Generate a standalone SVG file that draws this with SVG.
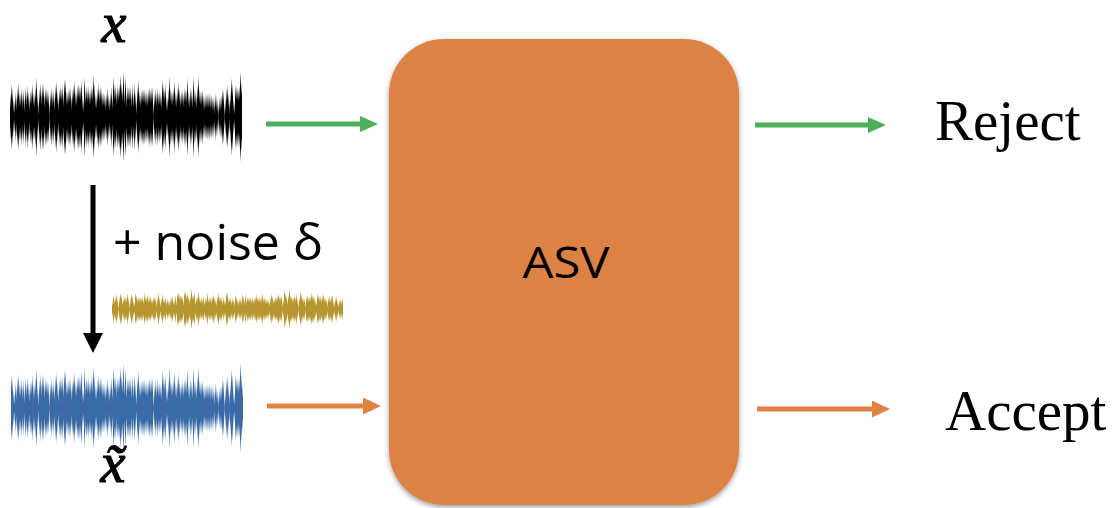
<svg xmlns="http://www.w3.org/2000/svg" width="1116" height="508" viewBox="0 0 1116 508">
  <style>
    .serif { font-family: "Liberation Serif", "Times New Roman", serif; fill: #000; }
    .sans { font-family: "Open Sans", "Noto Sans", sans-serif; fill: #000; }
    .math { font-family: "Liberation Serif", "DejaVu Serif", serif; font-style: italic; fill: #000; stroke: #000; stroke-width: 1.2; }
    .link { fill: none; stroke-width: 5; }
    .green { stroke: #4caf5a; }
    .orange { stroke: #df8243; }
    .black { stroke: #000; }
  </style>
  <defs>
    <!-- vertical envelope: 0 at centre line, 1 at top and bottom edge -->
    <linearGradient id="env" x1="0" y1="0" x2="0" y2="1">
      <stop offset="0" stop-color="#000" stop-opacity="1"/>
      <stop offset="0.5" stop-color="#000" stop-opacity="0"/>
      <stop offset="1" stop-color="#000" stop-opacity="1"/>
    </linearGradient>

    <!-- waveform: slow loudness envelope x fast sample noise, thresholded against |y| -->
    <filter id="waveClean" x="0" y="0" width="1" height="1" color-interpolation-filters="sRGB">
      <feTurbulence type="fractalNoise" baseFrequency="0.03 0" numOctaves="2" seed="4" result="lo"/>
      <feComponentTransfer in="lo" result="loA">
        <feFuncR type="linear" slope="0" intercept="0"/>
        <feFuncG type="linear" slope="0" intercept="0"/>
        <feFuncB type="linear" slope="0" intercept="0"/>
        <feFuncA type="linear" slope="1.2" intercept="0.15"/>
      </feComponentTransfer>
      <feTurbulence type="fractalNoise" baseFrequency="0.45 0" numOctaves="2" seed="9" result="hi"/>
      <feComponentTransfer in="hi" result="hiA">
        <feFuncR type="linear" slope="0" intercept="0"/>
        <feFuncG type="linear" slope="0" intercept="0"/>
        <feFuncB type="linear" slope="0" intercept="0"/>
        <feFuncA type="linear" slope="1.5" intercept="-0.05"/>
      </feComponentTransfer>
      <feComposite in="loA" in2="hiA" operator="arithmetic" k1="1" result="amp"/>
      <feComposite in="amp" in2="SourceAlpha" operator="arithmetic" k2="3.5" k3="-3.5" k4="0.1" result="shape"/>
      <feFlood flood-color="#000"/>
      <feComposite in2="shape" operator="in"/>
    </filter>

    <filter id="waveNoisy" x="0" y="0" width="1" height="1" color-interpolation-filters="sRGB">
      <feTurbulence type="fractalNoise" baseFrequency="0.03 0" numOctaves="2" seed="4" result="lo"/>
      <feComponentTransfer in="lo" result="loA">
        <feFuncR type="linear" slope="0" intercept="0"/>
        <feFuncG type="linear" slope="0" intercept="0"/>
        <feFuncB type="linear" slope="0" intercept="0"/>
        <feFuncA type="linear" slope="1.1" intercept="0.22"/>
      </feComponentTransfer>
      <feTurbulence type="fractalNoise" baseFrequency="0.45 0" numOctaves="2" seed="9" result="hi"/>
      <feComponentTransfer in="hi" result="hiA">
        <feFuncR type="linear" slope="0" intercept="0"/>
        <feFuncG type="linear" slope="0" intercept="0"/>
        <feFuncB type="linear" slope="0" intercept="0"/>
        <feFuncA type="linear" slope="1.5" intercept="-0.05"/>
      </feComponentTransfer>
      <feComposite in="loA" in2="hiA" operator="arithmetic" k1="1" result="amp"/>
      <feComposite in="amp" in2="SourceAlpha" operator="arithmetic" k2="3.5" k3="-3.5" k4="0.1" result="shape"/>
      <feFlood flood-color="#3a6ba6"/>
      <feComposite in2="shape" operator="in"/>
    </filter>

    <filter id="waveDelta" x="0" y="0" width="1" height="1" color-interpolation-filters="sRGB">
      <feTurbulence type="fractalNoise" baseFrequency="0.04 0" numOctaves="2" seed="17" result="lo"/>
      <feComponentTransfer in="lo" result="loA">
        <feFuncR type="linear" slope="0" intercept="0"/>
        <feFuncG type="linear" slope="0" intercept="0"/>
        <feFuncB type="linear" slope="0" intercept="0"/>
        <feFuncA type="linear" slope="0.8" intercept="0.45"/>
      </feComponentTransfer>
      <feTurbulence type="fractalNoise" baseFrequency="0.45 0" numOctaves="2" seed="23" result="hi"/>
      <feComponentTransfer in="hi" result="hiA">
        <feFuncR type="linear" slope="0" intercept="0"/>
        <feFuncG type="linear" slope="0" intercept="0"/>
        <feFuncB type="linear" slope="0" intercept="0"/>
        <feFuncA type="linear" slope="1.5" intercept="-0.05"/>
      </feComponentTransfer>
      <feComposite in="loA" in2="hiA" operator="arithmetic" k1="1" result="amp"/>
      <feComposite in="amp" in2="SourceAlpha" operator="arithmetic" k2="3.5" k3="-3.5" k4="0.1" result="shape"/>
      <feFlood flood-color="#b8962f"/>
      <feComposite in2="shape" operator="in"/>
    </filter>

    <filter id="boxShadow" x="-5%" y="-5%" width="110%" height="110%">
      <feDropShadow dx="0" dy="2" stdDeviation="2.5" flood-color="#000" flood-opacity="0.4"/>
    </filter>

    <marker id="headGreen" markerUnits="userSpaceOnUse" markerWidth="18" markerHeight="16" refX="0" refY="8" orient="auto">
      <path d="M0,0 L18,8 L0,16 Z" fill="#4caf5a"/>
    </marker>
    <marker id="headOrange" markerUnits="userSpaceOnUse" markerWidth="18" markerHeight="17" refX="0" refY="8.5" orient="auto">
      <path d="M0,0 L18,8.5 L0,17 Z" fill="#df8243"/>
    </marker>
    <marker id="headBlack" markerUnits="userSpaceOnUse" markerWidth="20" markerHeight="20" refX="0" refY="10" orient="auto">
      <path d="M0,0 L20,10 L0,20 Z" fill="#000"/>
    </marker>
  </defs>

  <rect width="1116" height="508" fill="#fff"/>

  <!-- clean speech x -->
  <g id="signal-x">
    <text class="math" x="114" y="42" font-size="56" text-anchor="middle">x</text>
    <rect x="10" y="66" width="232" height="102" fill="url(#env)" filter="url(#waveClean)"/>
  </g>

  <!-- added perturbation -->
  <g id="noise-delta">
    <text class="sans" x="113" y="260" font-size="49" textLength="210" lengthAdjust="spacingAndGlyphs">+ noise δ</text>
    <rect x="112" y="289" width="231" height="40" fill="url(#env)" filter="url(#waveDelta)"/>
  </g>

  <!-- perturbed speech x~ -->
  <g id="signal-x-tilde">
    <rect x="11" y="358" width="232" height="100" fill="url(#env)" filter="url(#waveNoisy)"/>
    <text class="math" x="113" y="482" font-size="56" text-anchor="middle">x̃</text>
  </g>

  <!-- verification system -->
  <g id="asv">
    <rect x="389" y="39" width="350" height="466" rx="55" ry="55" fill="#dd8244" filter="url(#boxShadow)"/>
    <text class="sans" x="566" y="278" font-size="43" text-anchor="middle" textLength="87" lengthAdjust="spacingAndGlyphs">ASV</text>
  </g>

  <g id="reject">
    <text class="serif" x="935" y="140" font-size="57">Reject</text>
  </g>

  <g id="accept">
    <text class="serif" x="945" y="430" font-size="57">Accept</text>
  </g>

  <g id="connectors">
    <line class="link black" x1="93" y1="185" x2="93" y2="333" marker-end="url(#headBlack)"/>
    <line class="link green" x1="266" y1="124" x2="360" y2="124" marker-end="url(#headGreen)"/>
    <line class="link green" x1="755" y1="125" x2="868" y2="125" marker-end="url(#headGreen)"/>
    <line class="link orange" x1="267" y1="406" x2="363" y2="406" marker-end="url(#headOrange)"/>
    <line class="link orange" x1="757" y1="409" x2="872" y2="409" marker-end="url(#headOrange)"/>
  </g>
</svg>
